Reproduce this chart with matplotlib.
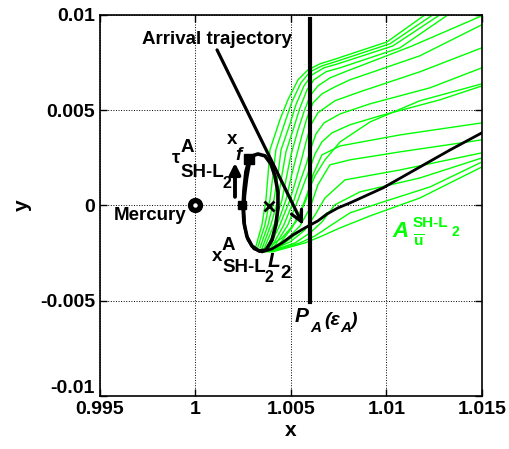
import matplotlib
matplotlib.use("Agg")
from matplotlib import pyplot as plt
from matplotlib.transforms import ScaledTranslation

plt.rcParams['font.family'] = ['Liberation Sans', 'DejaVu Sans']
plt.rcParams['font.weight'] = 'bold'
plt.rcParams['axes.labelweight'] = 'bold'
plt.rcParams['mathtext.fontset'] = 'custom'
plt.rcParams['mathtext.rm'] = 'Liberation Sans:bold'
plt.rcParams['mathtext.bf'] = 'Liberation Sans:bold'
plt.rcParams['mathtext.it'] = 'Liberation Sans:bold:italic'

## Data (x, y in normalised units)
x_ticks = [0.995, 1.0, 1.005, 1.01, 1.015]
x_tick_labels = ["0.995", "1", "1.005", "1.01", "1.015"]
y_ticks = [-0.01, -0.005, 0.0, 0.005, 0.01]
y_tick_labels = ["-0.01", "-0.005", "0", "0.005", "0.01"]

mercury = (1.0, 0.0)
x_final = (1.00278, 0.00244)
x_arrival = (1.00243, 0.00003)
l2_point = (1.00385, -0.00003)
section_x = 1.006
section_y = [-0.00507, 0.0098]

# Lyapunov orbit around L2
orbit_x = [1.00285, 1.00327, 1.00364, 1.00395, 1.00416, 1.00432, 1.00432, 1.00421, 1.00401,
           1.00369, 1.00333, 1.00296, 1.00270, 1.00254, 1.00249, 1.00254, 1.00264, 1.00285]
orbit_y = [0.00255, 0.00270, 0.00260, 0.00218, 0.00155, 0.00071, -0.00013, -0.00102, -0.00181,
           -0.00234, -0.00239, -0.00213, -0.00165, -0.00092, -0.00008, 0.00081, 0.00176, 0.00255]

# arrival trajectory
arrival_x = [1.01500, 1.01333, 1.00982, 1.00809, 1.00746, 1.00689, 1.00641, 1.00573, 1.00510,
             1.00453, 1.00401, 1.00348, 1.00306, 1.00275, 1.00259, 1.00254, 1.00259, 1.00270, 1.00285]
arrival_y = [0.00381, 0.00291, 0.00092, 0.00013, -0.00013, -0.00045, -0.00081, -0.00118, -0.00155,
             -0.00197, -0.00228, -0.00244, -0.00228, -0.00181, -0.00118, -0.00034, 0.00055, 0.00144, 0.00228]

# unstable manifold trajectories
manifold_x = [
    [1.00317, 1.00348, 1.00369, 1.00380, 1.00390, 1.00442, 1.00484, 1.00537, 1.00589, 1.00652, 1.00720, 1.01003, 1.01202],
    [1.00327, 1.00364, 1.00390, 1.00406, 1.00421, 1.00469, 1.00505, 1.00552, 1.00600, 1.00662, 1.00730, 1.01018, 1.01243],
    [1.00338, 1.00380, 1.00411, 1.00432, 1.00448, 1.00495, 1.00526, 1.00568, 1.00610, 1.00673, 1.00746, 1.01034, 1.01280],
    [1.00348, 1.00395, 1.00432, 1.00453, 1.00474, 1.00516, 1.00547, 1.00584, 1.00620, 1.00683, 1.00757, 1.01071, 1.01322],
    [1.00359, 1.00411, 1.00453, 1.00479, 1.00500, 1.00537, 1.00568, 1.00600, 1.00641, 1.00704, 1.00783, 1.01123, 1.01500],
    [1.00369, 1.00427, 1.00474, 1.00500, 1.00526, 1.00558, 1.00584, 1.00615, 1.00662, 1.00730, 1.00809, 1.01175, 1.01500],
    [1.00380, 1.00442, 1.00495, 1.00526, 1.00552, 1.00579, 1.00605, 1.00641, 1.00730, 1.00861, 1.01175, 1.01500],
    [1.00390, 1.00463, 1.00516, 1.00547, 1.00579, 1.00605, 1.00631, 1.00673, 1.00757, 1.00914, 1.01228, 1.01500],
    [1.00401, 1.00484, 1.00537, 1.00568, 1.00600, 1.00626, 1.00662, 1.00715, 1.00809, 1.00966, 1.01280, 1.01500],
    [1.00411, 1.00505, 1.00558, 1.00589, 1.00626, 1.00678, 1.00757, 1.00914, 1.01175, 1.01500],
    [1.00348, 1.00453, 1.00526, 1.00579, 1.00615, 1.00662, 1.00757, 1.01071, 1.01500],
    [1.00359, 1.00474, 1.00547, 1.00600, 1.00641, 1.00704, 1.00809, 1.01071, 1.01500],
    [1.00369, 1.00495, 1.00573, 1.00626, 1.00678, 1.00783, 1.01071, 1.01500],
    [1.00380, 1.00521, 1.00600, 1.00662, 1.00730, 1.00861, 1.01175, 1.01500],
    [1.00390, 1.00547, 1.00626, 1.00704, 1.00809, 1.00966, 1.01228, 1.01500],
    [1.00401, 1.00573, 1.00652, 1.00757, 1.00914, 1.01175, 1.01500],
    [1.00411, 1.00563, 1.00641, 1.00689, 1.00809, 1.00982, 1.01333, 1.01500],
]
manifold_y = [
    [-0.00213, -0.00102, 0.00029, 0.00160, 0.00291, 0.00449, 0.00554, 0.00659, 0.00711, 0.00743, 0.00764, 0.00858, 0.01000],
    [-0.00218, -0.00102, 0.00029, 0.00160, 0.00291, 0.00438, 0.00543, 0.00643, 0.00701, 0.00732, 0.00753, 0.00848, 0.01000],
    [-0.00223, -0.00102, 0.00029, 0.00160, 0.00291, 0.00428, 0.00528, 0.00627, 0.00685, 0.00722, 0.00743, 0.00837, 0.01000],
    [-0.00228, -0.00102, 0.00029, 0.00160, 0.00281, 0.00412, 0.00512, 0.00606, 0.00659, 0.00701, 0.00722, 0.00827, 0.01000],
    [-0.00228, -0.00102, 0.00029, 0.00160, 0.00265, 0.00396, 0.00491, 0.00575, 0.00627, 0.00669, 0.00701, 0.00832, 0.00995],
    [-0.00234, -0.00102, 0.00029, 0.00144, 0.00249, 0.00370, 0.00459, 0.00538, 0.00585, 0.00622, 0.00659, 0.00785, 0.00948],
    [-0.00234, -0.00102, 0.00029, 0.00134, 0.00228, 0.00333, 0.00423, 0.00486, 0.00549, 0.00596, 0.00701, 0.00827],
    [-0.00234, -0.00102, 0.00029, 0.00123, 0.00213, 0.00302, 0.00375, 0.00433, 0.00480, 0.00533, 0.00617, 0.00722],
    [-0.00234, -0.00102, 0.00029, 0.00113, 0.00197, 0.00270, 0.00333, 0.00381, 0.00423, 0.00470, 0.00554, 0.00627],
    [-0.00239, -0.00118, -0.00013, 0.00071, 0.00155, 0.00239, 0.00333, 0.00438, 0.00549, 0.00638],
    [-0.00239, -0.00171, -0.00087, 0.00029, 0.00160, 0.00265, 0.00312, 0.00370, 0.00433],
    [-0.00244, -0.00181, -0.00108, -0.00013, 0.00108, 0.00213, 0.00239, 0.00281, 0.00344],
    [-0.00244, -0.00192, -0.00129, -0.00050, 0.00039, 0.00134, 0.00186, 0.00276],
    [-0.00244, -0.00197, -0.00144, -0.00087, 0.00003, 0.00071, 0.00144, 0.00249],
    [-0.00244, -0.00197, -0.00160, -0.00108, -0.00039, 0.00013, 0.00097, 0.00228],
    [-0.00244, -0.00197, -0.00165, -0.00118, -0.00055, 0.00039, 0.00202],
    [-0.00239, -0.00123, -0.00081, -0.00039, 0.00013, 0.00092, 0.00291, 0.00381],
]

green = '#00ff00'
fs = 13.5

f = plt.figure(figsize=(5.1, 4.49), dpi=100)
ax = f.add_axes([0.196, 0.118, 0.749, 0.849])

for mx, my in zip(manifold_x, manifold_y):
	ax.plot(mx, my, color=green, linewidth=1.0)

ax.plot(orbit_x, orbit_y, color='k', linewidth=2.6)
ax.plot(arrival_x, arrival_y, color='k', linewidth=2.0)
ax.plot([section_x, section_x], section_y, color='k', linewidth=3.0)

# markers
ax.plot(*mercury, 'o', color='k', markersize=10)
ax.plot(*mercury, 'o', color='w', markersize=2.2)
ax.plot(*x_final, 's', color='k', markersize=7)
ax.plot(*x_arrival, 's', color='k', markersize=5.5)
ax.plot(*l2_point, 'x', color='k', markersize=7, markeredgewidth=2)

# arrows
ax.annotate('', xy=(1.00563, -0.00102), xytext=(1.00113, 0.00816),
	arrowprops=dict(arrowstyle='->', lw=2.3, color='k', mutation_scale=20, shrinkA=0, shrinkB=0))
ax.annotate('', xy=(1.00207, 0.00223), xytext=(1.00207, 0.00045),
	arrowprops=dict(arrowstyle='-|>', lw=2.8, color='k', mutation_scale=16, shrinkA=0, shrinkB=0))

# labels
ax.text(1.00113, 0.00869, "Arrival trajectory", fontsize=fs, ha='center', va='center')
ax.text(0.99955, -0.00076, "Mercury", fontsize=fs, ha='right', va='baseline')

ax.text(1.00165, 0.00323, "x", fontsize=fs)
ax.text(1.00207, 0.00236, "f", fontsize=fs, style='italic')

ax.text(0.99877, 0.00223, "\u03c4", fontsize=fs)
ax.text(0.99924, 0.00281, "A", fontsize=fs)
ax.text(0.99919, 0.00150, "SH-L", fontsize=fs)
ax.text(1.00144, 0.00092, "2", fontsize=fs - 2)

ax.text(1.00086, -0.00291, "x", fontsize=fs)
ax.text(1.00139, -0.00234, "A", fontsize=fs)
ax.text(1.00139, -0.00349, "SH-L", fontsize=fs)
ax.text(1.00359, -0.00402, "2", fontsize=fs - 2)

ax.text(1.0038, -0.00323, "L", fontsize=15, style='italic')
ax.text(1.00442, -0.00381, "2", fontsize=fs)

ax.text(1.00521, -0.00612, "P", fontsize=15, style='italic')
ax.text(1.00600, -0.00664, "A", fontsize=11, style='italic')
ax.text(1.00673, -0.00627, "(\u03b5", fontsize=14, style='italic')
ax.text(1.00757, -0.00664, "A", fontsize=11, style='italic')
ax.text(1.00814, -0.00627, ")", fontsize=14, style='italic')

ax.text(1.01034, -0.00165, "A", fontsize=16, style='italic', color=green)
ax.text(1.01139, -0.00113, "SH-L", fontsize=11, color=green)
ax.text(1.01343, -0.0016, "2", fontsize=10, color=green)
ax.text(1.01139, -0.00218, r"$\overline{\mathrm{u}}$", fontsize=11, color=green)

# axes formatting
ax.set_xlim(0.995, 1.015)
ax.set_ylim(-0.01, 0.01)
ax.set_xticks(x_ticks)
ax.set_xticklabels(x_tick_labels)
ax.set_yticks(y_ticks)
ax.set_yticklabels(y_tick_labels)
ax.tick_params(direction='in', top=True, right=True, labelsize=14, length=5, width=1)
ax.grid(True, linestyle=':', color='k', linewidth=0.7)
for s in ax.spines.values():
	s.set_linewidth(1.2)
ax.set_xlabel("x", fontsize=15, labelpad=2)
ax.set_ylabel("y", fontsize=15, labelpad=6)

# MATLAB nudges the lowest y label upwards
lab = ax.get_yticklabels()[0]
lab.set_transform(lab.get_transform() + ScaledTranslation(0, 7/72., f.dpi_scale_trans))

f.savefig("out.png", dpi=100)
